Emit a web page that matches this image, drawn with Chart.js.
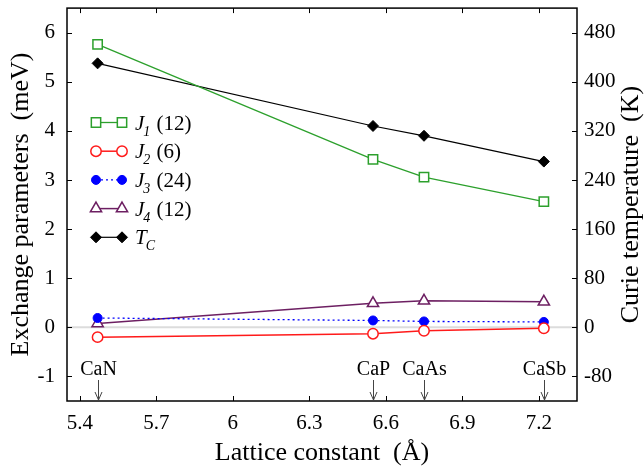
<!DOCTYPE html>
<html>
<head>
<meta charset="utf-8">
<script src="https://cdn.jsdelivr.net/npm/chart.js@4/dist/chart.umd.min.js"></script>
<style>
  html, body { margin: 0; padding: 0; background: #fff; }
  canvas { display: block; }
</style>
</head>
<body>
<canvas id="exchange-chart" width="644" height="466"></canvas>
<script>
// lattice constants of the four compounds (Å)
var compounds = ['CaN', 'CaP', 'CaAs', 'CaSb'];
var latticeConst = [5.47, 6.55, 6.75, 7.22];

// exchange parameters (meV)
var j1 = [5.76, 3.42, 3.06, 2.56];
var j2 = [-0.20, -0.13, -0.07, -0.02];
var j3 = [0.19, 0.14, 0.12, 0.11];
var j4 = [0.08, 0.49, 0.54, 0.52];
// Curie temperature (K)
var tc = [430, 328, 312, 270];

var xTicks = [5.4, 5.7, 6, 6.3, 6.6, 6.9, 7.2];
var yTicks = [-1, 0, 1, 2, 3, 4, 5, 6];
var y2Ticks = [-80, 0, 80, 160, 240, 320, 400, 480];

var serif = '"Liberation Serif", "DejaVu Serif", serif';

function points(ys) {
    return latticeConst.map(function (x, i) { return { x: x, y: ys[i] }; });
}

var datasets = [
    { label: 'J1', sub: '1', tail: ' (12)', data: points(j1), yAxisID: 'y',
      borderColor: '#2ca02c', backgroundColor: '#fff', borderWidth: 1.3,
      pointStyle: 'rect', pointRadius: 6.6, pointBorderWidth: 1.5 },
    { label: 'J2', sub: '2', tail: ' (6)', data: points(j2), yAxisID: 'y',
      borderColor: '#ff1a1a', backgroundColor: '#fff', borderWidth: 1.5,
      pointStyle: 'circle', pointRadius: 5.2, pointBorderWidth: 1.5 },
    { label: 'J3', sub: '3', tail: ' (24)', data: points(j3), yAxisID: 'y',
      borderColor: '#0000ff', backgroundColor: '#0000ff', borderWidth: 1.3, borderDash: [2, 3],
      pointStyle: 'circle', pointRadius: 4.5, pointBorderWidth: 1 },
    { label: 'J4', sub: '4', tail: ' (12)', data: points(j4), yAxisID: 'y',
      borderColor: '#6d1f62', backgroundColor: '#fff', borderWidth: 1.5,
      pointStyle: 'triangle', pointRadius: 6.5, pointBorderWidth: 1.5 },
    { label: 'TC', main: 'T', sub: 'C', tail: '', data: points(tc), yAxisID: 'y2',
      borderColor: '#000', backgroundColor: '#000', borderWidth: 1.2,
      pointStyle: 'rectRot', pointRadius: 5.5, pointBorderWidth: 1 }
];
datasets.forEach(function (d) {
    d.pointBackgroundColor = d.backgroundColor;
    d.pointBorderColor = d.borderColor;
    d.fill = false;
    d.tension = 0;
});

function drawMarker(ctx, d, x, y) {
    ctx.save();
    ctx.setLineDash([]);
    ctx.fillStyle = d.pointBackgroundColor;
    ctx.strokeStyle = d.pointBorderColor;
    ctx.lineWidth = d.pointBorderWidth;
    Chart.helpers.drawPoint(ctx, { pointStyle: d.pointStyle, radius: d.pointRadius, rotation: 0, borderWidth: d.pointBorderWidth }, x, y);
    ctx.restore();
}

var decor = {
    id: 'decor',
    beforeDatasetsDraw: function (chart) {
        var ctx = chart.ctx, a = chart.chartArea, y0 = chart.scales.y.getPixelForValue(0);
        ctx.save();
        ctx.strokeStyle = '#dcdcdc';
        ctx.lineWidth = 2;
        ctx.beginPath();
        ctx.moveTo(a.left, y0);
        ctx.lineTo(a.right, y0);
        ctx.stroke();
        ctx.restore();
    },
    afterDatasetsDraw: function (chart) {
        var ctx = chart.ctx, a = chart.chartArea;
        var sx = chart.scales.x, sy = chart.scales.y, sy2 = chart.scales.y2;
        ctx.save();

        // frame and inward ticks
        ctx.strokeStyle = '#000';
        ctx.lineWidth = 1.5;
        ctx.strokeRect(a.left, a.top, a.right - a.left, a.bottom - a.top);
        ctx.lineWidth = 1;
        ctx.beginPath();
        xTicks.forEach(function (v) {
            var px = Math.round(sx.getPixelForValue(v)) + 0.5;
            ctx.moveTo(px, a.bottom); ctx.lineTo(px, a.bottom - 5);
            ctx.moveTo(px, a.top); ctx.lineTo(px, a.top + 5);
        });
        yTicks.forEach(function (v) {
            var py = Math.round(sy.getPixelForValue(v)) + 0.5;
            ctx.moveTo(a.left, py); ctx.lineTo(a.left + 5, py);
        });
        y2Ticks.forEach(function (v) {
            var py = Math.round(sy2.getPixelForValue(v)) + 0.5;
            ctx.moveTo(a.right, py); ctx.lineTo(a.right - 5, py);
        });
        ctx.stroke();

        // compound arrows
        ctx.font = '20px ' + serif;
        ctx.textAlign = 'center';
        ctx.textBaseline = 'middle';
        compounds.forEach(function (name, i) {
            var px = Math.round(sx.getPixelForValue(latticeConst[i])) + 0.5;
            ctx.fillStyle = '#000';
            ctx.fillText(name, px, a.bottom - 31);
            ctx.strokeStyle = '#444';
            ctx.lineWidth = 1;
            ctx.beginPath();
            ctx.moveTo(px, a.bottom - 21);
            ctx.lineTo(px, a.bottom - 1);
            ctx.moveTo(px - 3.5, a.bottom - 9);
            ctx.lineTo(px, a.bottom - 1);
            ctx.lineTo(px + 3.5, a.bottom - 9);
            ctx.stroke();
        });

        // legend with a marker at each end of the line
        var lx1 = 96, lx2 = 122, tx = 135;
        datasets.forEach(function (d, i) {
            var ly = 122.5 + i * 28.7;
            ctx.save();
            ctx.strokeStyle = d.borderColor;
            ctx.lineWidth = d.borderWidth;
            ctx.setLineDash(d.borderDash || []);
            ctx.beginPath();
            ctx.moveTo(lx1, ly); ctx.lineTo(lx2, ly);
            ctx.stroke();
            ctx.restore();
            drawMarker(ctx, d, lx1, ly);
            drawMarker(ctx, d, lx2, ly);

            ctx.fillStyle = '#000';
            ctx.textAlign = 'left';
            ctx.textBaseline = 'alphabetic';
            var base = ly + 7, x = tx;
            ctx.font = 'italic 21px ' + serif;
            var main = d.main || 'J';
            ctx.fillText(main, x, base);
            x += ctx.measureText(main).width;
            ctx.font = 'italic 14px ' + serif;
            ctx.fillText(d.sub, x - 1, base + 6);
            x += ctx.measureText(d.sub).width;
            ctx.font = '21px ' + serif;
            ctx.fillText(d.tail, x, base);
        });

        // axis titles
        var cy = (a.top + a.bottom) / 2;
        ctx.font = '26px ' + serif;
        ctx.textAlign = 'center';
        ctx.textBaseline = 'middle';
        ctx.save();
        ctx.translate(21, cy);
        ctx.rotate(-Math.PI / 2);
        ctx.fillText('Exchange parameters  (meV)', 0, 0);
        ctx.restore();
        ctx.save();
        ctx.translate(631, cy);
        ctx.rotate(-Math.PI / 2);
        ctx.fillText('Curie temperature  (K)', 0, 0);
        ctx.restore();
        ctx.textBaseline = 'alphabetic';
        ctx.fillText('Lattice constant  (\u00c5)', (a.left + a.right) / 2, 460);

        ctx.restore();
    }
};

function fixedTicks(list) {
    return function (scale) { scale.ticks = list.map(function (v) { return { value: v }; }); };
}

var tickFont = { family: serif, size: 21 };

var ctx = document.getElementById('exchange-chart').getContext('2d');
var myChart = new Chart(ctx, {
    type: 'line',
    data: { datasets: datasets },
    options: {
        responsive: false,
        animation: false,
        devicePixelRatio: 1,
        layout: { padding: { top: 6, left: 0, right: 0, bottom: 0 } },
        plugins: { legend: { display: false }, tooltip: { enabled: false } },
        scales: {
            x: {
                type: 'linear', min: 5.35, max: 7.35,
                afterBuildTicks: fixedTicks(xTicks),
                afterFit: function (s) { s.height = 65; s.paddingLeft = 0; s.paddingRight = 0; },
                grid: { display: false, drawTicks: false },
                border: { display: false },
                ticks: { font: tickFont, color: '#000', padding: 10, maxRotation: 0, autoSkip: false,
                         callback: function (v) { return String(Math.round(v * 10) / 10); } }
            },
            y: {
                position: 'left', min: -1.5, max: 6.5,
                afterBuildTicks: fixedTicks(yTicks),
                afterFit: function (s) { s.width = 67; s.paddingTop = 0; s.paddingBottom = 0; },
                grid: { display: false, drawTicks: false },
                border: { display: false },
                ticks: { font: tickFont, color: '#000', padding: 12, autoSkip: false }
            },
            y2: {
                position: 'right', min: -120, max: 520,
                afterBuildTicks: fixedTicks(y2Ticks),
                afterFit: function (s) { s.width = 67; s.paddingTop = 0; s.paddingBottom = 0; },
                grid: { display: false, drawTicks: false },
                border: { display: false },
                ticks: { font: tickFont, color: '#000', padding: 7, autoSkip: false }
            }
        }
    },
    plugins: [decor]
});
</script>
</body>
</html>
